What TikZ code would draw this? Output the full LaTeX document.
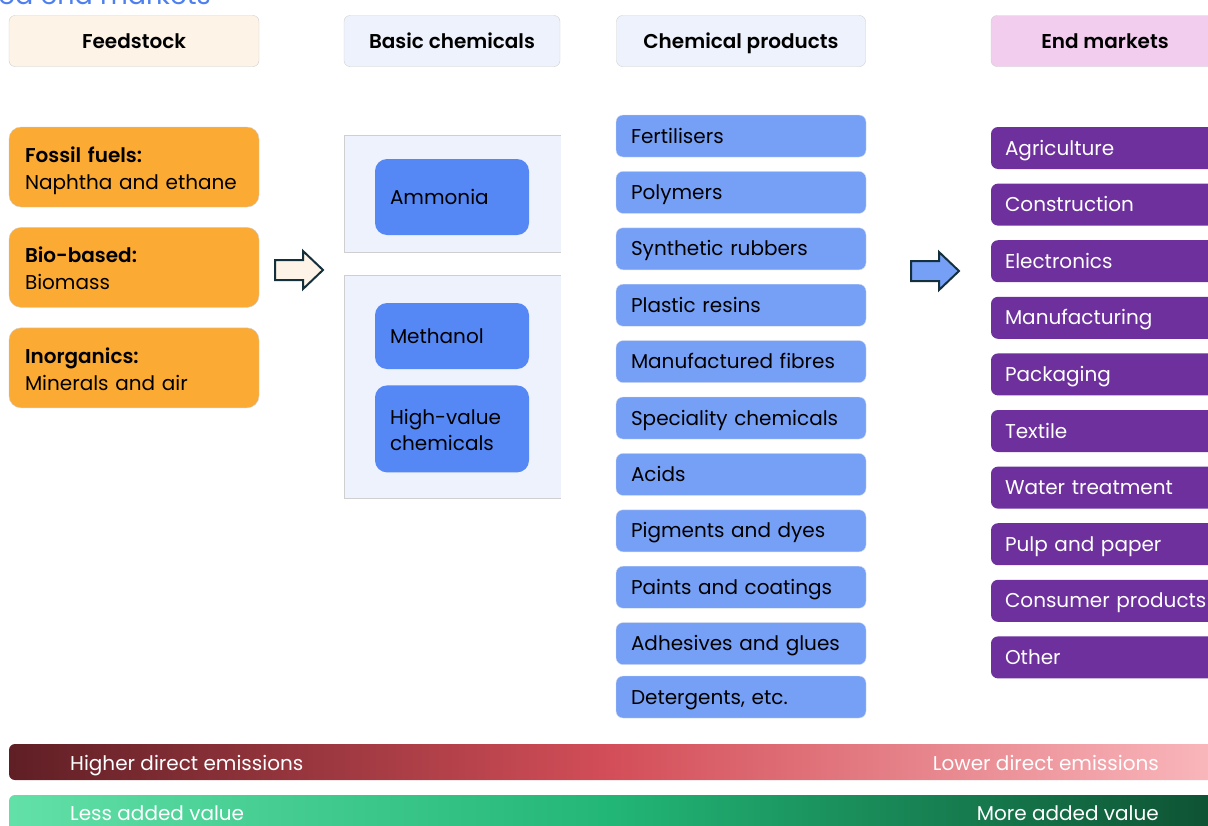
\documentclass[tikz,border=0pt]{standalone}
\usepackage{fontspec}
\setmainfont{Poppins}[BoldFont={Poppins SemiBold}]
\usepackage{tikz}
\usetikzlibrary{positioning}

\definecolor{creamc}{HTML}{FDF3E6}
\definecolor{paleblue}{HTML}{EEF2FC}
\definecolor{palepink}{HTML}{F2CDEE}
\definecolor{orangec}{HTML}{FBAA33}
\definecolor{basicblue}{HTML}{5588F5}
\definecolor{prodblue}{HTML}{76A0F6}
\definecolor{marketpurple}{HTML}{6D309C}
\definecolor{arrowline}{HTML}{15303D}
\definecolor{titleblue}{HTML}{4D7FEF}
\definecolor{edgegray}{HTML}{CFCFCF}
\definecolor{emA}{HTML}{5F1F25}
\definecolor{emB}{HTML}{D34E58}
\definecolor{emC}{HTML}{F9B7BC}
\definecolor{vaA}{HTML}{62E0A8}
\definecolor{vaB}{HTML}{22B676}
\definecolor{vaC}{HTML}{0E5233}
\pgfdeclarehorizontalshading{emisshade}{100bp}{color(0bp)=(emA); color(25bp)=(emA); color(50bp)=(emB); color(75bp)=(emC); color(100bp)=(emC)}
\pgfdeclarehorizontalshading{valueshade}{100bp}{color(0bp)=(vaA); color(25bp)=(vaA); color(50bp)=(vaB); color(75bp)=(vaC); color(100bp)=(vaC)}

\tikzset{
  hdr/.style={draw=edgegray, rounded corners=6pt, minimum width=#1, minimum height=51pt,
    inner sep=0pt, text height=14pt, text depth=0pt, font=\fontsize{20}{24}\selectfont\bfseries},
  feed/.style={draw=edgegray, fill=orangec, rounded corners=12pt, minimum width=250pt,
    minimum height=80pt, text width=218pt, align=left, inner sep=0pt, text depth=25pt,
    font=\fontsize{20}{27}\selectfont},
  grp/.style={fill=paleblue},
  basic/.style={fill=basicblue, rounded corners=12pt, minimum width=154pt,
    text width=124pt, align=left, inner sep=0pt, text depth=0pt,
    font=\fontsize{20}{26}\selectfont},
  prod/.style={fill=prodblue, draw=prodblue!80!black!30, rounded corners=7pt,
    minimum width=250pt, minimum height=42pt, text width=220pt, align=left,
    inner sep=0pt, text height=14pt, text depth=0pt, font=\fontsize{20}{24}\selectfont},
  mkt/.style={fill=marketpurple, rounded corners=7pt, minimum width=250pt,
    minimum height=42pt, text width=222pt, align=left, inner sep=0pt,
    text height=14pt, text depth=0pt, text=white, font=\fontsize{20}{24}\selectfont},
  flow/.style={draw=arrowline, line width=2pt, line join=miter},
  barlabel/.style={text=white, font=\fontsize{20}{24}\selectfont, inner sep=0pt}
}

\begin{document}
\begin{tikzpicture}[x=1pt, y=-1pt]
  \useasboundingbox (0,0) rectangle (1208,825);
  \clip (0,0) rectangle (1208,825);

  \node [anchor=base east, text=titleblue, inner sep=0pt, font=\fontsize{27}{30}\selectfont]
    (title) at (211,4) {related end markets};

  % column headers
  \node [hdr=250pt, fill=creamc] (hFeed) at (134,41) {Feedstock};
  \node [hdr=216pt, fill=paleblue] (hBasic) at (452,41) {Basic chemicals};
  \node [hdr=249pt, fill=paleblue] (hProd) at (741,41) {Chemical products};
  \node [hdr=250pt, fill=palepink] (hMkt) at (1116,41) {\hspace*{-22pt}End markets};

  % feedstock
  \node [feed] (iFossil) at (134,167) {\textbf{Fossil fuels:}\\Naphtha and ethane};
  \node [feed, below=20pt of iFossil] (iBio) {\textbf{Bio-based:}\\Biomass};
  \node [feed, below=20pt of iBio] (iInorg) {\textbf{Inorganics:}\\Minerals and air};

  % basic chemicals
  \fill [grp] (561,135) -- (344,135) -- (344,252) -- (561,252) -- cycle;
  \draw [edgegray] (561,135) -- (344,135) -- (344,252) -- (561,252);
  \fill [grp] (561,275) -- (344,275) -- (344,498) -- (561,498) -- cycle;
  \draw [edgegray] (561,275) -- (344,275) -- (344,498) -- (561,498);
  \node [basic, minimum height=76pt] (iAmmonia) at (452,197) {Ammonia};
  \node [basic, minimum height=66pt] (iMethanol) at (452,336) {Methanol};
  \node [basic, minimum height=87pt, text depth=24pt, below=16pt of iMethanol] (iHVC) {High-value\\chemicals};

  % chemical products
  \node [prod] (iFert) at (741,136) {Fertilisers};
  \node [prod, below=14pt of iFert] (iPoly) {Polymers};
  \node [prod, below=14pt of iPoly] (iRubber) {Synthetic rubbers};
  \node [prod, below=14pt of iRubber] (iResin) {Plastic resins};
  \node [prod, below=14pt of iResin] (iFibre) {Manufactured fibres};
  \node [prod, below=14pt of iFibre] (iSpec) {Speciality chemicals};
  \node [prod, below=14pt of iSpec] (iAcid) {Acids};
  \node [prod, below=14pt of iAcid] (iPigm) {Pigments and dyes};
  \node [prod, below=14pt of iPigm] (iPaint) {Paints and coatings};
  \node [prod, below=14pt of iPaint] (iGlue) {Adhesives and glues};
  \node [prod, below=11pt of iGlue] (iDeterg) {Detergents, etc.};

  % end markets
  \node [mkt] (iAgri) at (1116,148) {Agriculture};
  \node [mkt, below=14.2pt of iAgri] (iConstr) {Construction};
  \node [mkt, below=14.2pt of iConstr] (iElec) {Electronics};
  \node [mkt, below=14.2pt of iElec] (iManuf) {Manufacturing};
  \node [mkt, below=14.2pt of iManuf] (iPack) {Packaging};
  \node [mkt, below=14.2pt of iPack] (iText) {Textile};
  \node [mkt, below=14.2pt of iText] (iWater) {Water treatment};
  \node [mkt, below=14.2pt of iWater] (iPulp) {Pulp and paper};
  \node [mkt, below=14.2pt of iPulp] (iCons) {Consumer products};
  \node [mkt, below=14.2pt of iCons] (iOther) {Other};

  % flow arrows
  \draw [flow, fill=creamc] (275,260) -- (303,260) -- (303,251) -- (323,270)
    -- (303,289) -- (303,280) -- (275,280) -- cycle;
  \draw [flow, fill=prodblue] (911,261) -- (939,261) -- (939,252) -- (959,271)
    -- (939,290) -- (939,281) -- (911,281) -- cycle;

  % gradient bars
  \shade [shading=emisshade, rounded corners=6pt] (9,744) rectangle (1214,780);
  \shade [shading=valueshade, rounded corners=6pt] (9,795) rectangle (1214,840);
  \node [barlabel, anchor=base west] (lHigh) at (70,770) {Higher direct emissions};
  \node [barlabel, anchor=base east] (lLow) at (1159,770) {Lower direct emissions};
  \node [barlabel, anchor=base west] (lLess) at (70,820) {Less added value};
  \node [barlabel, anchor=base east] (lMore) at (1159,820) {More added value};
\end{tikzpicture}
\end{document}
